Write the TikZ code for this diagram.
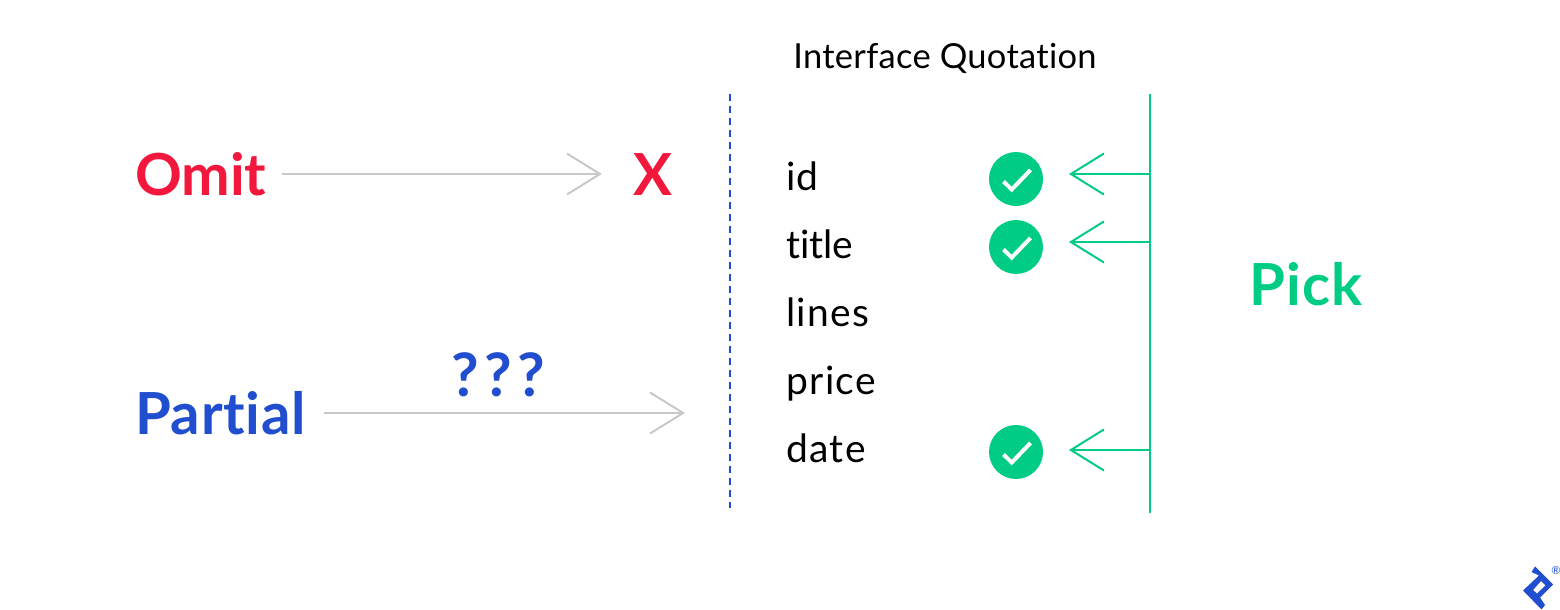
\documentclass[tikz,border=0pt]{standalone}
\usepackage{fontspec}
\setmainfont[Ligatures=NoCommon]{Lato}
\usetikzlibrary{arrows.meta}
\definecolor{omitred}{HTML}{F2183D}
\definecolor{partialblue}{HTML}{204ECF}
\definecolor{pickgreen}{HTML}{00CC83}
\definecolor{linkgray}{HTML}{C8C8CA}
\tikzset{
  bigword/.style={inner sep=0pt, text height=42pt, text depth=0pt, font=\fontsize{58}{58}\selectfont\bfseries},
  fieldname/.style={inner sep=0pt, anchor=base west},
  barbtip/.style={-{Straight Barb[length=33pt,width=41pt,line width=2pt]}, line width=2pt},
  checkdisc/.style={circle, fill=pickgreen, minimum size=54pt, inner sep=0pt}
}
\begin{document}
\begin{tikzpicture}[x=1pt,y=-1pt]
\useasboundingbox (0,0) rectangle (1560,610);
\node[inner sep=0pt, anchor=base, font=\fontsize{34.5}{34.5}\selectfont\addfontfeatures{LetterSpace=0.8}] (title) at (945,69) {Interface Quotation};
\node[bigword, anchor=west, text=omitred] (omit) at (135,174) {Omit};
\node[bigword, text=omitred] (cross) at (652.5,174) {X};
\node[bigword, anchor=west, text=partialblue, font=\fontsize{58}{58}\selectfont\bfseries\addfontfeatures{LetterSpace=1.2}] (partial) at (135,413) {Partial};
\node[bigword, text=partialblue, font=\fontsize{60}{60}\selectfont\bfseries\addfontfeatures{LetterSpace=9}] (marks) at (498,375) {???};
\node[bigword, text=pickgreen, font=\fontsize{58}{58}\selectfont\bfseries\addfontfeatures{LetterSpace=2}] (pick) at (1306,284) {Pick};
\coordinate (partialend) at (685,413);
\draw[barbtip, color=linkgray, shorten <=15pt, shorten >=31pt] (omit) -- (cross);
\draw[barbtip, color=linkgray, shorten <=18pt] (partial) -- (partialend);
\coordinate (dashtop) at (730,94);
\coordinate (dashbot) at (730,508);
\draw[partialblue, line width=2pt, dash pattern=on 7pt off 5pt] (dashtop) -- (dashbot);
\foreach \fname/\fy/\fsp in {id/190/3.6,title/258/0,lines/326/3.6,price/394/3.6,date/462/3.6}
  \node[fieldname, font=\fontsize{39}{39}\selectfont\addfontfeatures{LetterSpace=\fsp}] (f\fname) at (786,\fy) {\fname};
\coordinate (picktop) at (1150,94);
\coordinate (pickbot) at (1150,513);
\draw[pickgreen, line width=2pt] (picktop) -- (pickbot);
\foreach \cname/\cy/\ty in {id/179/174,title/247/242,date/452/450} {
  \node[checkdisc] (c\cname) at (1016,\cy) {};
  \draw[white, line width=4pt] ([shift={(-12.5,2.5)}]c\cname.center) -- ([shift={(-4.3,10.5)}]c\cname.center) -- ([shift={(14.5,-9)}]c\cname.center);
  \coordinate (t\cname) at (1069,\ty);
  \draw[barbtip, pickgreen] (t\cname -| picktop) -- (t\cname);
}
\fill[partialblue, even odd rule] (1531.5,572) -- (1535,566.5) -- (1553,584.5) -- (1540,597.5) -- (1545,605) -- (1541.5,609.5) -- (1523,590.5) -- (1539,575.5) -- cycle
  (1541,581) -- (1533,590) -- (1537,593.5) -- (1545.5,585.5) -- cycle;
\node[inner sep=0pt, text=partialblue, font=\fontsize{11}{11}\selectfont] (regmark) at (1556,571) {®};
\end{tikzpicture}
\end{document}
